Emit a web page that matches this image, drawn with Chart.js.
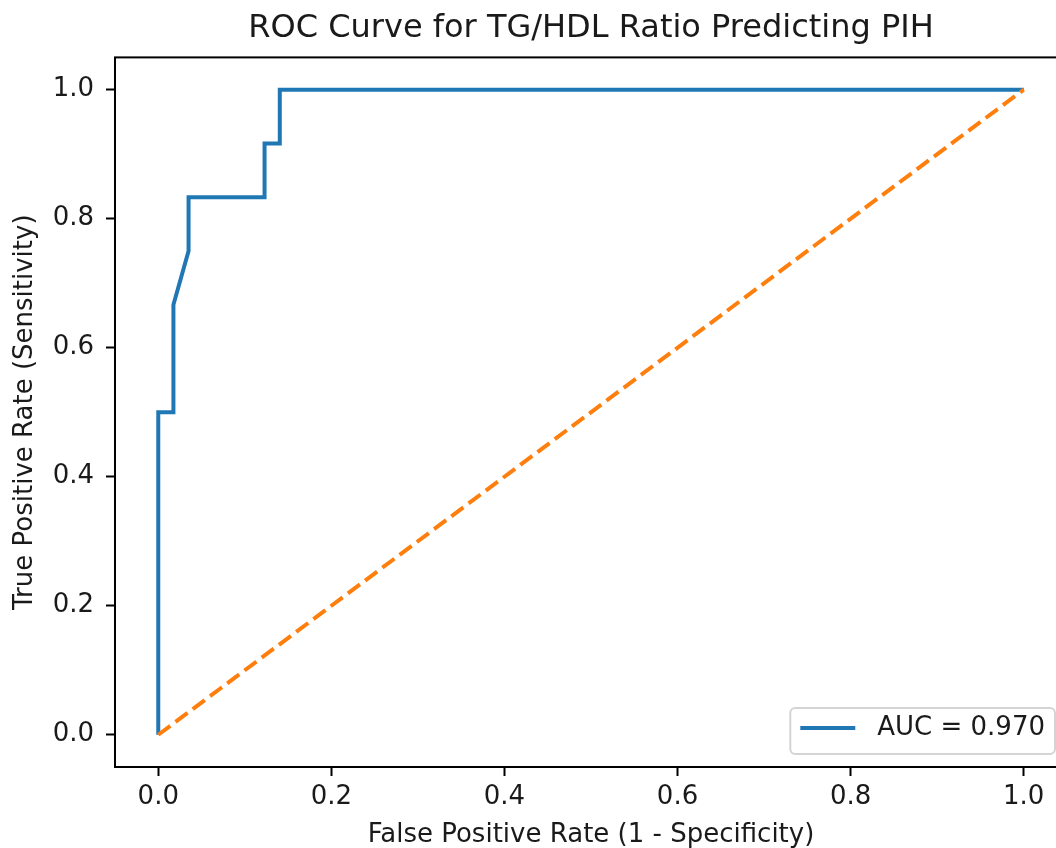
<!DOCTYPE html>
<html>
<head>
<meta charset="utf-8">
<title>ROC Curve for TG/HDL Ratio Predicting PIH</title>
<script src="https://cdn.jsdelivr.net/npm/chart.js@4.4.1/dist/chart.umd.min.js"></script>
<style>
  html, body { margin: 0; padding: 0; background: #fff; overflow: hidden; }
  #myChart { display: block; }
</style>
</head>
<body>
<!-- a bit wider than the window: the right spine falls outside, as in the reference -->
<canvas id="myChart" width="1070" height="848"></canvas>
<script>
// ROC curve points
const fpr = [0, 0, 0.0175, 0.0175, 0.035, 0.035, 0.1228, 0.1228, 0.1404, 0.1404, 1.0];
const tpr = [0, 0.5, 0.5, 0.6667, 0.75, 0.8333, 0.8333, 0.9167, 0.9167, 1.0, 1.0];
// chance diagonal
const chanceX = [0, 1];
const chanceY = [0, 1];
// tick labels
const xTicks = [0, 0.2, 0.4, 0.6, 0.8, 1.0];
const yTicks = [0, 0.2, 0.4, 0.6, 0.8, 1.0];
const aucLabel = 'AUC = 0.970';

const FONT = '"DejaVu Sans", "Liberation Sans", sans-serif';
Chart.defaults.font.family = FONT;
Chart.defaults.color = '#000';

// spines on all four sides
const framePlugin = {
    id: 'frame',
    afterDatasetsDraw(chart) {
        const { ctx, chartArea: a } = chart;
        ctx.save();
        ctx.strokeStyle = '#000';
        ctx.lineWidth = 2;
        ctx.strokeRect(a.left, a.top, a.right - a.left, a.bottom - a.top);
        ctx.restore();
    }
};

// matplotlib style legend box, lower right
const legendPlugin = {
    id: 'boxLegend',
    afterDraw(chart) {
        const { ctx, chartArea: a } = chart;
        const ds = chart.data.datasets.find(d => d.label === aucLabel);
        const fs = 26;
        ctx.save();
        ctx.font = fs + 'px ' + FONT;
        const tw = ctx.measureText(ds.label).width;
        const pad = 10, handle = 55, gap = 22;
        const w = pad + handle + gap + tw + pad;
        const h = 46;
        const right = a.right - 12, bottom = a.bottom - 13;
        const left = right - w, top = bottom - h;
        ctx.beginPath();
        ctx.roundRect(left, top, w, h, 5);
        ctx.fillStyle = 'rgba(255,255,255,0.8)';
        ctx.fill();
        ctx.strokeStyle = '#d4d4d4';
        ctx.lineWidth = 2;
        ctx.stroke();
        const cy = top + 20;
        ctx.beginPath();
        ctx.moveTo(left + pad, cy);
        ctx.lineTo(left + pad + handle, cy);
        ctx.strokeStyle = ds.borderColor;
        ctx.lineWidth = 4;
        ctx.stroke();
        ctx.fillStyle = '#1a1a1a';
        ctx.textBaseline = 'middle';
        ctx.textAlign = 'left';
        ctx.fillText(ds.label, left + pad + handle + gap, cy);
        ctx.restore();
    }
};

const ctx = document.getElementById('myChart').getContext('2d');
const chart = new Chart(ctx, {
    type: 'scatter',
    data: {
        datasets: [
            {
                label: 'chance',
                data: chanceX.map((x, i) => ({ x: x, y: chanceY[i] })),
                showLine: true,
                borderColor: '#ff7f0e',
                borderWidth: 4,
                borderDash: [15, 6.5],
                borderCapStyle: 'butt',
                pointRadius: 0,
                tension: 0,
                order: 0
            },
            {
                label: aucLabel,
                data: fpr.map((x, i) => ({ x: x, y: tpr[i] })),
                showLine: true,
                borderColor: '#1f77b4',
                backgroundColor: '#1f77b4',
                borderWidth: 4,
                borderCapStyle: 'butt',
                borderJoinStyle: 'miter',
                pointRadius: 0,
                tension: 0,
                order: 1
            }
        ]
    },
    options: {
        responsive: false,
        animation: false,
        devicePixelRatio: 1,
        layout: { padding: { left: 0, right: 3, top: 0, bottom: 0 } },
        plugins: {
            legend: { display: false },
            tooltip: { enabled: false },
            title: {
                display: true,
                fullSize: false, // centre over the plot area
                text: 'ROC Curve for TG/HDL Ratio Predicting PIH',
                font: { size: 32, weight: 'normal' },
                color: '#1a1a1a',
                padding: { top: 9, bottom: 10 }
            }
        },
        scales: {
            x: {
                type: 'linear',
                min: -0.05,
                max: 1.05,
                afterBuildTicks: s => { s.ticks = xTicks.map(v => ({ value: v })); },
                afterFit: s => { s.height = 81; },
                ticks: {
                    font: { size: 26 },
                    color: '#1a1a1a',
                    padding: 6,
                    maxRotation: 0,
                    callback: v => v.toFixed(1)
                },
                grid: { drawOnChartArea: false, drawTicks: true, tickLength: 9, tickWidth: 2, tickColor: '#000' },
                border: { display: false },
                title: {
                    display: true,
                    text: 'False Positive Rate (1 - Specificity)',
                    font: { size: 26, lineHeight: 1 },
                    color: '#1a1a1a',
                    padding: { top: 0, bottom: 0 }
                }
            },
            y: {
                type: 'linear',
                min: -0.05,
                max: 1.05,
                afterBuildTicks: s => { s.ticks = yTicks.map(v => ({ value: v })); },
                afterFit: s => { s.width = 115; },
                ticks: {
                    font: { size: 26 },
                    color: '#1a1a1a',
                    padding: 12,
                    callback: v => v.toFixed(1)
                },
                grid: { drawOnChartArea: false, drawTicks: true, tickLength: 9, tickWidth: 2, tickColor: '#000' },
                border: { display: false },
                title: {
                    display: true,
                    text: 'True Positive Rate (Sensitivity)',
                    font: { size: 26 },
                    color: '#1a1a1a',
                    padding: { top: 10, bottom: 0 }
                }
            }
        }
    },
    plugins: [framePlugin, legendPlugin]
});
</script>
</body>
</html>
